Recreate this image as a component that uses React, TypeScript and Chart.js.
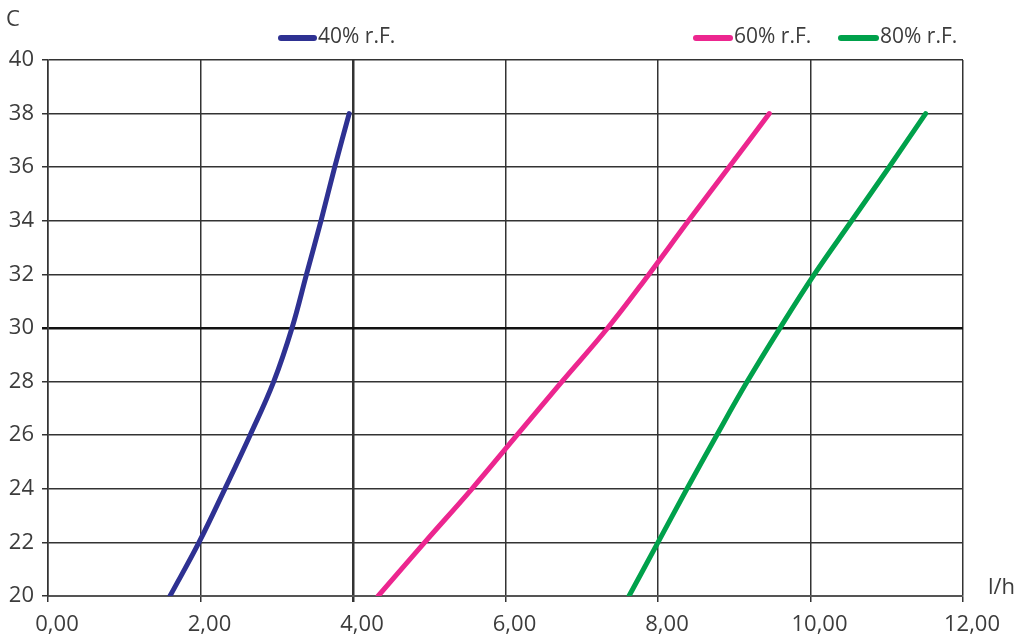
import { useRef, useEffect } from "react";
import { Chart, registerables } from "chart.js";

Chart.register(...registerables);

// temperature (C) on the y axis, water in l/h on the x axis
const temps = [20, 22, 24, 26, 28, 30, 32, 34, 36, 38];
const flow40 = [1.6, 1.98, 2.32, 2.65, 2.96, 3.2, 3.39, 3.58, 3.76, 3.95];
const flow60 = [4.33, 4.94, 5.56, 6.15, 6.74, 7.34, 7.88, 8.4, 8.93, 9.46];
const flow80 = [7.62, 8.0, 8.38, 8.77, 9.17, 9.6, 10.05, 10.54, 11.03, 11.51];

const seriesLabels = ["40% r.F.", "60% r.F.", "80% r.F."];
const seriesColors = ["#2e3192", "#ec268f", "#00a14b"];

const FONT = "'Open Sans', sans-serif";
const TEXT = "#3c3c3c";

// legend is hand placed, like the original sheet
const legendSpots = [
  { x1: 281, x2: 314, tx: 318 },
  { x1: 696, x2: 730, tx: 734 },
  { x1: 841, x2: 876, tx: 880 },
];

const extras = {
  id: "extras",
  afterDraw(chart) {
    const ctx = chart.ctx;
    ctx.save();
    ctx.font = `22px ${FONT}`;
    ctx.fillStyle = TEXT;
    ctx.textBaseline = "middle";
    ctx.textAlign = "left";
    ctx.fillText("C", 6, 20);
    ctx.fillText("l/h", 988, 588);

    ctx.font = `21px ${FONT}`;
    chart.data.datasets.forEach((ds, i) => {
      const s = legendSpots[i];
      ctx.strokeStyle = ds.borderColor;
      ctx.lineWidth = 6;
      ctx.lineCap = "round";
      ctx.beginPath();
      ctx.moveTo(s.x1, 38);
      ctx.lineTo(s.x2, 38);
      ctx.stroke();
      ctx.fillStyle = TEXT;
      ctx.fillText(ds.label, s.tx, 37);
    });
    ctx.restore();
  },
};

const App = () => {
  const chartRef = useRef(null);
  const chartInstance = useRef(null);

  useEffect(() => {
    const ctx = chartRef.current.getContext("2d");
    if (chartInstance.current) {
      chartInstance.current.destroy();
    }

    const flows = [flow40, flow60, flow80];
    const datasets = flows.map((f, i) => ({
      label: seriesLabels[i],
      data: temps.map((t, j) => ({ x: f[j], y: t })),
      borderColor: seriesColors[i],
      backgroundColor: seriesColors[i],
      borderWidth: 5,
      showLine: true,
      pointRadius: 0,
      tension: 0.4,
      borderCapStyle: "round",
    }));

    chartInstance.current = new Chart(ctx, {
      type: "scatter",
      data: { datasets },
      plugins: [extras],
      options: {
        animation: false,
        responsive: false,
        events: [],
        layout: { padding: { top: 60, right: 61, left: 0, bottom: 0 } },
        plugins: {
          legend: { display: false },
          tooltip: { enabled: false },
        },
        scales: {
          x: {
            type: "linear",
            min: 0,
            max: 12,
            afterFit: (s) => {
              s.height = 40;
            },
            ticks: {
              stepSize: 2,
              color: TEXT,
              font: { family: FONT, size: 22 },
              padding: 10,
              labelOffset: 9,
              callback: (v) => Number(v).toFixed(2).replace(".", ","),
            },
            grid: {
              color: "#333333",
              lineWidth: (c) => (c.tick && c.tick.value === 4 ? 2.5 : 1.5),
              tickLength: 6,
            },
            border: { color: "#555555", width: 2 },
          },
          y: {
            min: 20,
            max: 40,
            afterFit: (s) => {
              s.width = 48;
            },
            ticks: {
              stepSize: 2,
              color: TEXT,
              font: { family: FONT, size: 22 },
              padding: 8,
            },
            grid: {
              color: (c) => (c.tick && c.tick.value === 30 ? "#111111" : "#333333"),
              lineWidth: (c) => (c.tick && c.tick.value === 30 ? 2.5 : 1.5),
              tickLength: 6,
            },
            border: { color: "#333333", width: 1.5 },
          },
        },
      },
    });

    return () => {
      if (chartInstance.current) {
        chartInstance.current.destroy();
      }
    };
  }, []);

  return (
    <div style={{ position: "fixed", left: 0, top: 0, width: 1024, height: 636, background: "#fff" }}>
      <canvas ref={chartRef} width="1024" height="636"></canvas>
    </div>
  );
};

export default App;
